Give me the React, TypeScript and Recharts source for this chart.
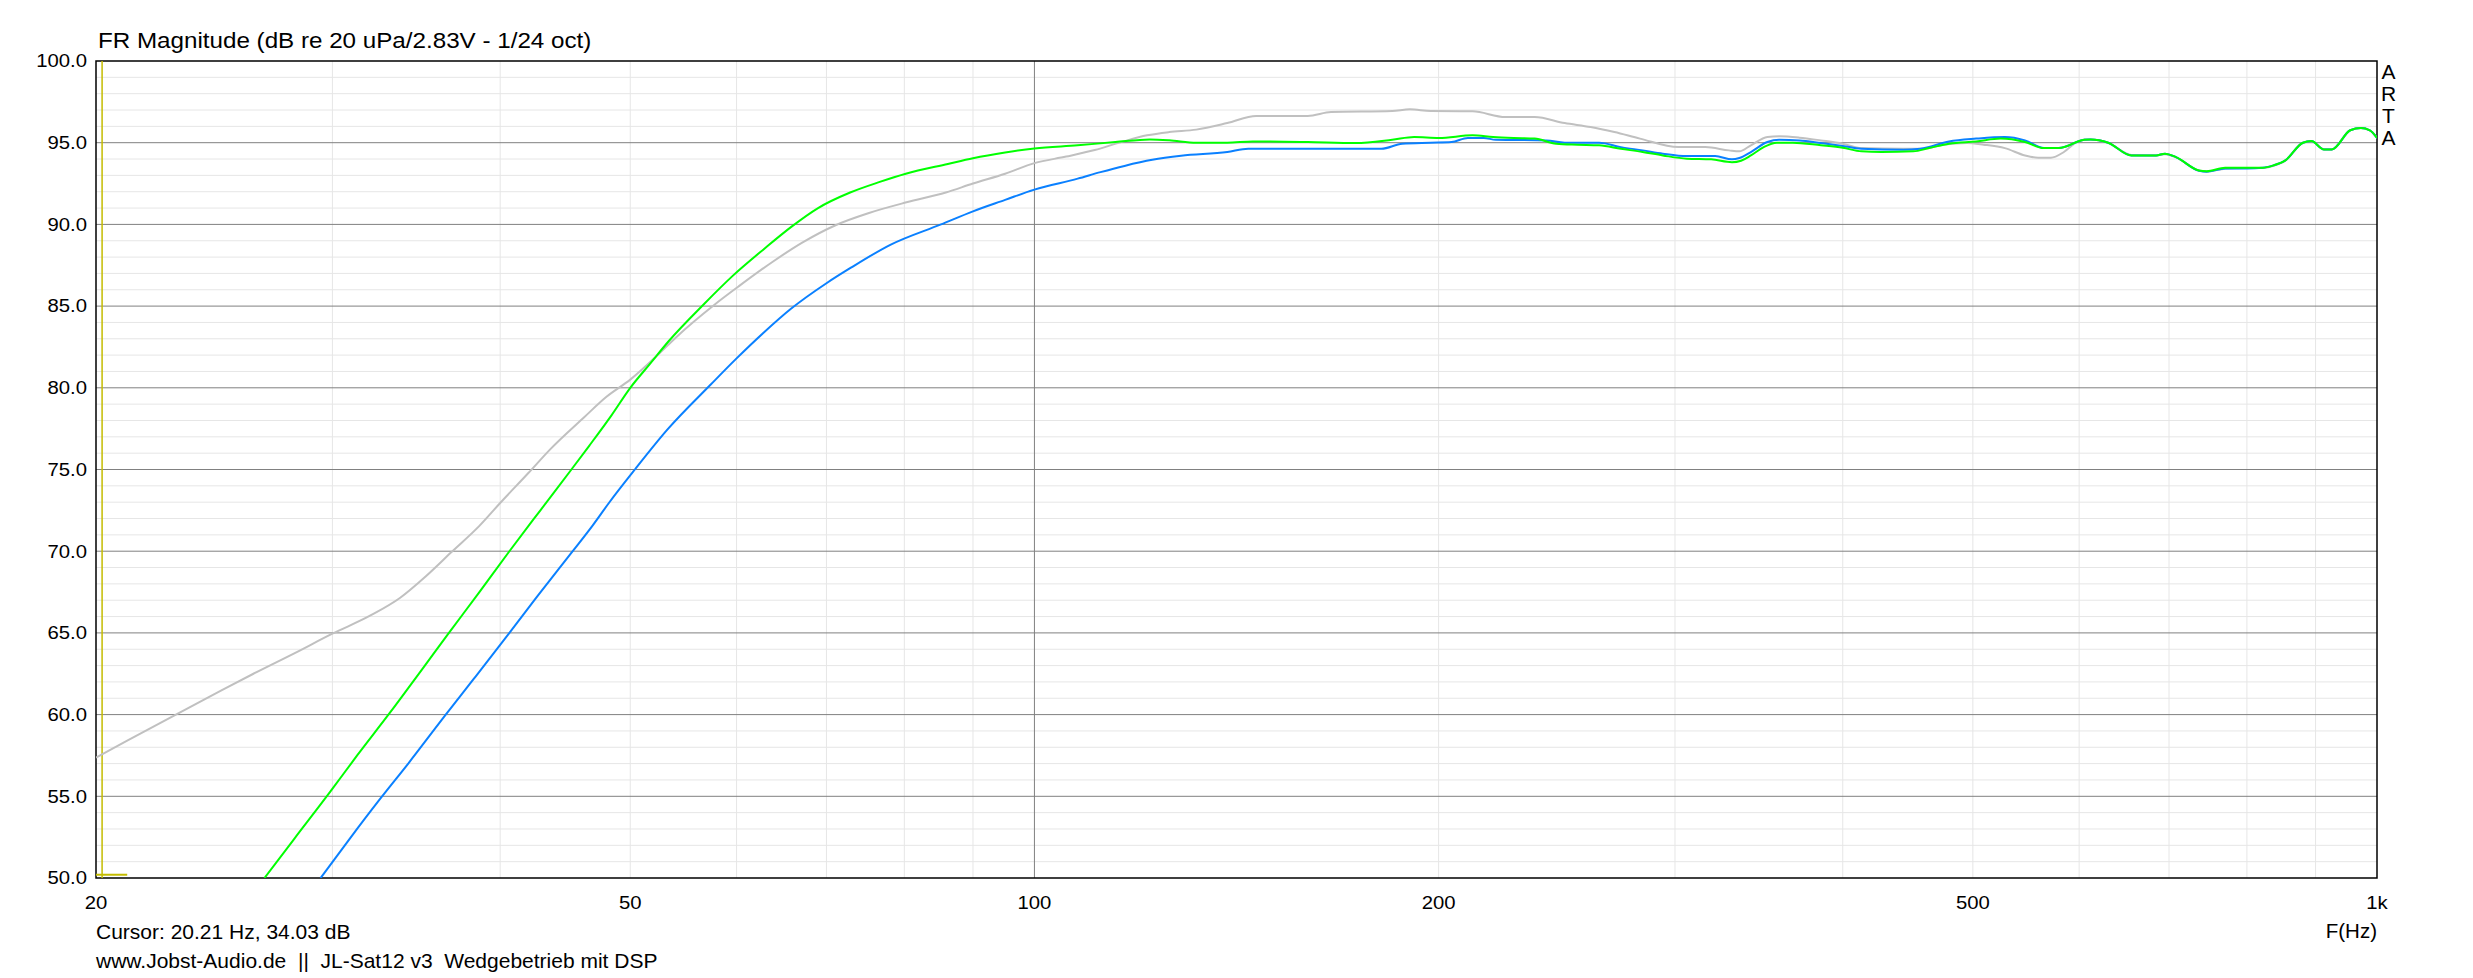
import React from "react";
import {
  LineChart,
  Line,
  XAxis,
  YAxis,
  CartesianGrid,
  ReferenceLine,
  ReferenceArea,
} from "recharts";

// ---- Data ----
const grayFreq = [
  20, 21.1, 22.7, 24.7, 26.2, 28.1, 30, 32, 33.7, 35.2, 36.8, 38.6, 40, 42, 43.6, 46.2, 48, 50, 52.4, 54.1,
  57.8, 60.2, 63.8, 67.2, 71.1, 75.3, 80.3, 85.9, 90, 95.1, 100, 105.6, 110.9, 116.2, 121.3, 126, 132, 139.2,
  146.3, 159.8, 166.3, 184.7, 190.4, 197.3, 212, 224.3, 235.8, 248.3, 259.6, 270.4, 282.5, 301.7, 316,
  329.1, 335, 341.7, 351.5, 358.7, 371.3, 385.3, 400, 413, 443.8, 459.7, 475, 495, 509.3, 528.2, 546.8,
  559.2, 571.6, 584.5, 597.5, 605.3, 611.9, 630.6, 656.3, 684.6, 695.1, 708.4, 736.9, 746.6, 770.7, 800.6,
  822.2, 837.3, 854.6, 880.7, 893.5, 913, 925.6, 955.2, 972.8, 987.8, 1000,
];
const grayDb = [
  57.37, 58.4, 59.8, 61.4, 62.5, 63.75, 64.95, 66.05, 67.15, 68.45, 69.95, 71.55, 72.95, 74.8, 76.25, 78.2,
  79.45, 80.5, 82.0, 83.1, 85.1, 86.2, 87.7, 88.9, 89.95, 90.7, 91.35, 91.95, 92.5, 93.1, 93.75, 94.15,
  94.55, 95.05, 95.45, 95.65, 95.8, 96.2, 96.64, 96.64, 96.88, 96.94, 97.04, 96.94, 96.92, 96.57, 96.57,
  96.2, 95.96, 95.65, 95.25, 94.73, 94.73, 94.53, 94.47, 94.84, 95.35, 95.39, 95.31, 95.14, 94.94, 94.67,
  94.63, 94.63, 94.88, 94.98, 94.88, 94.67, 94.22, 94.08, 94.08, 94.43, 95.04, 95.2, 95.2, 95.0, 94.25,
  94.22, 94.3, 94.1, 93.3, 93.24, 93.4, 93.45, 93.45, 93.58, 93.9, 95.0, 95.1, 94.6, 94.6, 95.76, 95.9,
  95.76, 95.3,
];

const greenFreq = [
  26.7, 28.1, 29.9, 31.3, 33.1, 34.9, 36.6, 38.6, 40.6, 42.9, 45.2, 46.6, 48.4, 50, 51.7, 53.4, 56.7, 59.6,
  62.9, 65.9, 69, 72.9, 76.7, 80.2, 86.2, 90, 95.1, 100, 107.7, 114.9, 121.9, 126, 132, 139.2, 145.4, 159.8,
  173.5, 184.7, 191.8, 200.1, 212, 219.6, 227.5, 235.8, 244.7, 253.9, 263.4, 273.4, 283.8, 293.8, 306.1,
  319.2, 330.8, 336, 341.7, 349.3, 357.3, 367.1, 385.3, 400, 413, 427.5, 451.5, 463.8, 480, 502.8, 524.4,
  546.8, 564.9, 579.3, 605.3, 611.9, 630.6, 656.3, 684.6, 695.1, 708.4, 736.9, 746.6, 770.7, 800.6, 822.2,
  837.3, 854.6, 880.7, 893.5, 913, 925.6, 955.2, 972.8, 987.8, 1000,
];
const greenDb = [
  50.0, 52.4, 55.3, 57.5, 60.1, 62.65, 64.95, 67.5, 69.95, 72.55, 75.0, 76.45, 78.3, 80.0, 81.45, 82.85,
  85.1, 86.85, 88.5, 89.85, 91.0, 91.95, 92.6, 93.1, 93.7, 94.05, 94.4, 94.65, 94.84, 95.04, 95.2, 95.15,
  95.0, 95.0, 95.08, 95.04, 94.98, 95.18, 95.35, 95.29, 95.45, 95.35, 95.29, 95.25, 94.94, 94.88, 94.84,
  94.63, 94.43, 94.22, 94.02, 93.98, 93.81, 93.9, 94.22, 94.73, 95.0, 95.0, 94.84, 94.69, 94.47, 94.43,
  94.47, 94.67, 94.94, 95.08, 95.25, 95.04, 94.67, 94.67, 95.18, 95.2, 95.0, 94.22, 94.22, 94.33, 94.12,
  93.3, 93.26, 93.47, 93.47, 93.47, 93.61, 93.92, 95.0, 95.1, 94.59, 94.59, 95.76, 95.9, 95.76, 95.3,
];

const blueFreq = [
  29.4, 30.9, 32.6, 34.2, 36.4, 38.2, 40.6, 42.6, 45.3, 46.9, 48.2, 50.4, 53.3, 57.4, 60, 62.9, 65.9, 70,
  73, 78.1, 85.2, 90, 95.1, 100, 107.7, 112, 116.7, 122.4, 128.6, 139.2, 144.3, 181.3, 187.9, 197.3, 204.5,
  210.3, 216.1, 220.6, 240.7, 248.3, 263.4, 273.4, 283.8, 293.8, 306.1, 321.4, 330.8, 335, 341.7, 351.5,
  358.7, 371.3, 385.3, 400, 413, 443.8, 456.9, 480, 502.8, 528.2, 546.8, 564.9, 579.3, 605.3, 611.9, 630.6,
  656.3, 684.6, 695.1, 708.4, 736.9, 746.6, 770.7, 800.6, 822.2, 837.3, 854.6, 880.7, 893.5, 913, 925.6,
  955.2, 972.8, 987.8, 1000,
];
const blueDb = [
  50.0, 52.4, 54.9, 57.05, 59.95, 62.15, 64.95, 67.2, 70.0, 71.6, 72.95, 75.0, 77.45, 80.2, 81.8, 83.4,
  84.85, 86.4, 87.35, 88.75, 90.0, 90.8, 91.5, 92.13, 92.8, 93.2, 93.58, 93.95, 94.2, 94.43, 94.63, 94.63,
  94.94, 95.0, 95.04, 95.29, 95.29, 95.18, 95.14, 95.0, 95.0, 94.73, 94.53, 94.33, 94.18, 94.18, 93.98,
  94.06, 94.43, 95.04, 95.18, 95.14, 94.98, 94.8, 94.63, 94.57, 94.63, 95.08, 95.25, 95.35, 95.14, 94.67,
  94.67, 95.18, 95.2, 95.0, 94.22, 94.22, 94.33, 94.12, 93.28, 93.22, 93.42, 93.42, 93.47, 93.61, 93.92,
  95.0, 95.1, 94.59, 94.59, 95.76, 95.9, 95.76, 95.3,
];

const xTicks = [20, 50, 100, 200, 500, 1000];
const yTicks = [50, 55, 60, 65, 70, 75, 80, 85, 90, 95, 100];
const yMinor = [
  51, 52, 53, 54, 56, 57, 58, 59, 61, 62, 63, 64, 66, 67, 68, 69, 71, 72, 73, 74, 76, 77, 78, 79, 81, 82,
  83, 84, 86, 87, 88, 89, 91, 92, 93, 94, 96, 97, 98, 99,
];
const yMajor = [55, 60, 65, 70, 75, 80, 85, 90, 95];
const xMinor = [30, 40, 50, 60, 70, 80, 90, 200, 300, 400, 500, 600, 700, 800, 900];
const xMajor = [100];

const cursorFreq = 20.21;
const cursorMarkEnd = 21.1;
const cursorMarkDb = 50.2;

const titleText = "FR Magnitude (dB re 20 uPa/2.83V - 1/24 oct)";
const cursorText = "Cursor: 20.21 Hz, 34.03 dB";
const footerText = "www.Jobst-Audio.de  ||  JL-Sat12 v3  Wedgebetrieb mit DSP";
const xAxisLabel = "F(Hz)";
const brandLetters = ["A", "R", "T", "A"];

const toSeries = (fs: number[], vs: number[]) => fs.map((f, i) => ({ f, v: vs[i] }));
const grayData = toSeries(grayFreq, grayDb);
const greenData = toSeries(greenFreq, greenDb);
const blueData = toSeries(blueFreq, blueDb);

const FONT = "'Liberation Sans', Arial, sans-serif";

const YTick = (props: any) => {
  const { x, y, payload } = props;
  return (
    <text
      transform={`translate(${x},${y}) scale(1.16,1)`}
      x={0}
      y={6.3}
      textAnchor="end"
      fontSize={17.5}
      fontFamily={FONT}
      fill="#000"
    >
      {Number(payload.value).toFixed(1)}
    </text>
  );
};

const XTick = (props: any) => {
  const { x, y, payload } = props;
  const v = Number(payload.value);
  const label = v >= 1000 ? `${v / 1000}k` : String(v);
  return (
    <text
      transform={`translate(${x},${y}) scale(1.16,1)`}
      x={0}
      y={31.3}
      textAnchor="middle"
      fontSize={17.5}
      fontFamily={FONT}
      fill="#000"
    >
      {label}
    </text>
  );
};

export default function App() {
  return (
    <div
      style={{
        position: "absolute",
        left: 0,
        top: 0,
        width: 2473,
        height: 978,
        background: "#fff",
        overflow: "hidden",
      }}
    >
      <LineChart width={2473} height={978} margin={{ top: 61, right: 96, bottom: 0, left: 0 }}>
        <CartesianGrid
          stroke="#e6e6e6"
          strokeWidth={1}
          horizontalValues={yMinor}
          verticalValues={xMinor}
        />
        <CartesianGrid
          stroke="#808080"
          strokeWidth={1}
          horizontalValues={yMajor}
          verticalValues={xMajor}
        />
        <XAxis
          dataKey="f"
          type="number"
          scale="log"
          domain={[20, 1000]}
          ticks={xTicks}
          interval={0}
          allowDataOverflow
          height={100}
          axisLine={false}
          tickLine={false}
          tickSize={0}
          tickMargin={0}
          tick={<XTick />}
        />
        <YAxis
          type="number"
          domain={[50, 100]}
          ticks={yTicks}
          interval={0}
          allowDataOverflow
          width={96}
          axisLine={false}
          tickLine={false}
          tickSize={0}
          tickMargin={9}
          tick={<YTick />}
        />
        <ReferenceLine x={cursorFreq} stroke="#c4bc00" strokeWidth={1.5} ifOverflow="hidden" />
        <ReferenceLine
          segment={[
            { x: 20, y: cursorMarkDb },
            { x: cursorMarkEnd, y: cursorMarkDb },
          ]}
          stroke="#c4bc00"
          strokeWidth={2}
        />
        <Line
          data={grayData}
          dataKey="v"
          type="monotone"
          stroke="#c0c0c0"
          strokeWidth={2}
          dot={false}
          activeDot={false}
          isAnimationActive={false}
        />
        <Line
          data={blueData}
          dataKey="v"
          type="monotone"
          stroke="#0a80ff"
          strokeWidth={2}
          dot={false}
          activeDot={false}
          isAnimationActive={false}
        />
        <Line
          data={greenData}
          dataKey="v"
          type="monotone"
          stroke="#00ff00"
          strokeWidth={2}
          dot={false}
          activeDot={false}
          isAnimationActive={false}
        />
        <ReferenceArea
          x1={20}
          x2={1000}
          y1={50}
          y2={100}
          fill="none"
          fillOpacity={0}
          stroke="#000"
          strokeWidth={1.5}
          ifOverflow="visible"
        />
      </LineChart>
      <svg
        width={2473}
        height={978}
        style={{ position: "absolute", left: 0, top: 0, pointerEvents: "none" }}
      >
        <text
          transform="translate(98,48.3) scale(1.1,1)"
          x={0}
          y={0}
          fontSize={22}
          fontFamily={FONT}
          fill="#000"
        >
          {titleText}
        </text>
        <text x={96} y={939.3} fontSize={21} fontFamily={FONT} fill="#000">
          {cursorText}
        </text>
        <text
          x={96}
          y={968.3}
          fontSize={21}
          fontFamily={FONT}
          fill="#000"
          style={{ whiteSpace: "pre" }}
        >
          {footerText}
        </text>
        <text x={2377} y={938} fontSize={20.5} fontFamily={FONT} fill="#000" textAnchor="end">
          {xAxisLabel}
        </text>
        {brandLetters.map((ch, i) => (
          <text
            key={i}
            x={2388.5}
            y={79.3 + i * 21.9}
            fontSize={21}
            fontFamily={FONT}
            fill="#000"
            textAnchor="middle"
          >
            {ch}
          </text>
        ))}
      </svg>
    </div>
  );
}
